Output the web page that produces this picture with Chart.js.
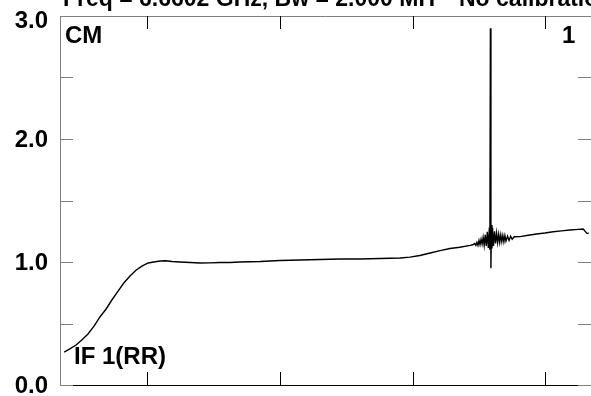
<!DOCTYPE html>
<html>
<head>
<meta charset="utf-8">
<script src="https://cdn.jsdelivr.net/npm/chart.js@4.4.1/dist/chart.umd.min.js"></script>
<style>
  html, body { margin: 0; padding: 0; background: #ffffff; overflow: hidden; }
  #wrap { width: 591px; height: 396px; }
</style>
</head>
<body>
<div id="wrap"><canvas id="c" width="591" height="396"></canvas></div>
<script>
// ---- data ----
const channels = [8, 19, 31, 42, 54, 66, 77, 89, 100, 112, 123, 135, 147, 158, 170, 181, 193, 204, 216, 231,
  251, 270, 289, 309, 328, 347, 386, 424, 463, 501, 540, 579, 617, 656, 675, 694, 714, 733, 752, 771, 791, 796,
  800, 802, 804, 806, 808, 810, 812, 814, 816, 818, 820, 822, 824, 826, 828, 829, 830, 831, 832, 833, 834, 836,
  838, 840, 842, 844, 846, 848, 850, 852, 854, 856, 858, 860, 863, 866, 869, 872, 876,
  887, 903, 919, 935, 951, 967, 983, 1000, 1009, 1016, 1020];
const amplitude = [0.268, 0.293, 0.325, 0.366, 0.415, 0.48, 0.553, 0.618, 0.691, 0.764, 0.829, 0.886, 0.935, 0.967, 0.992, 1.0, 1.008, 1.01, 1.004, 1.0,
  0.996, 0.992, 0.993, 0.996, 0.996, 1.0, 1.004, 1.012, 1.016, 1.02, 1.024, 1.024, 1.028, 1.033, 1.04, 1.053, 1.073, 1.093, 1.11, 1.12, 1.135, 1.14,
  1.15, 1.135, 1.16, 1.135, 1.175, 1.14, 1.185, 1.145, 1.20, 1.135, 1.22, 1.13, 1.245, 1.115, 1.28, 1.10, 2.90, 0.95, 1.30, 1.11, 1.28, 1.13,
  1.25, 1.15, 1.235, 1.16, 1.225, 1.16, 1.22, 1.165, 1.215, 1.165, 1.215, 1.17, 1.21, 1.175, 1.21, 1.185, 1.205,
  1.206, 1.218, 1.228, 1.236, 1.246, 1.253, 1.26, 1.265, 1.268, 1.233, 1.235];

const xTicks = [168, 424, 680, 936];
const yTicks = [0, 0.5, 1, 1.5, 2, 2.5, 3];
const yLabelValues = [0, 1, 2, 3];
const yTickLabels = ['0.0', '1.0', '2.0', '3.0'];
const titleLeft = 'Freq = 6.6602 GHz, Bw = 2.000 MH';
const titleRight = 'No calibration';
const cornerTL = 'CM';
const cornerTR = '1';
const cornerBL = 'IF 1(RR)';

const FAMILY = '"Liberation Sans", Arial, Helvetica, sans-serif';
const FONT = 'bold 24px ' + FAMILY;
const TITLE_FONT = 'bold 23px ' + FAMILY;
const GRAY = '#7f7f7f';

const decor = {
  id: 'decor',
  afterDraw(chart) {
    const ctx = chart.ctx;
    const { left, right, top, bottom } = chart.chartArea;
    const xs = chart.scales.x, ys = chart.scales.y;
    const T = 13;
    ctx.save();
    ctx.lineWidth = 1;
    // top border
    ctx.strokeStyle = GRAY;
    ctx.beginPath();
    ctx.moveTo(left, Math.round(top) + 0.5);
    ctx.lineTo(right, Math.round(top) + 0.5);
    ctx.stroke();
    // x ticks (inward, top and bottom)
    ctx.strokeStyle = '#000000';
    ctx.beginPath();
    xTicks.forEach(v => {
      const px = Math.round(xs.getPixelForValue(v)) + 0.5;
      ctx.moveTo(px, bottom);
      ctx.lineTo(px, bottom - T);
      ctx.moveTo(px, top);
      ctx.lineTo(px, top + T);
    });
    ctx.stroke();
    // y ticks (inward, left and right)
    ctx.strokeStyle = GRAY;
    ctx.beginPath();
    yTicks.forEach(v => {
      const py = Math.round(ys.getPixelForValue(v)) + 0.5;
      ctx.moveTo(left, py);
      ctx.lineTo(left + T, py);
      ctx.moveTo(right, py);
      ctx.lineTo(right - T, py);
    });
    ctx.stroke();
    // y tick labels
    ctx.fillStyle = '#000000';
    ctx.font = FONT;
    ctx.textAlign = 'right';
    ctx.textBaseline = 'middle';
    yLabelValues.forEach((v, i) => {
      const py = Math.max(ys.getPixelForValue(v), top + 4);
      ctx.fillText(yTickLabels[i], left - 12, py + 1);
    });
    // corner texts
    ctx.textBaseline = 'alphabetic';
    ctx.textAlign = 'left';
    ctx.fillText(cornerTL, 65, 43);
    ctx.fillText(cornerTR, 562, 43);
    ctx.fillText(cornerBL, 74, 364);
    // title (clipped at the top edge)
    ctx.font = TITLE_FONT;
    ctx.fillText(titleLeft, 63, 6);
    ctx.fillText(titleRight, 459, 6);
    ctx.restore();
  }
};

new Chart(document.getElementById('c'), {
  type: 'line',
  data: {
    datasets: [{
      data: channels.map((c, i) => ({ x: c, y: amplitude[i] })),
      borderColor: '#000000',
      borderWidth: 1.4,
      pointRadius: 0,
      tension: 0,
      fill: false
    }]
  },
  options: {
    responsive: false,
    animation: false,
    events: [],
    layout: { padding: { left: 0, top: 16, right: 0, bottom: 0 } },
    plugins: { legend: { display: false }, title: { display: false }, tooltip: { enabled: false } },
    scales: {
      x: {
        type: 'linear',
        min: 0, max: 1024,
        afterFit(s) { s.height = 11; },
        ticks: { display: false },
        grid: { drawOnChartArea: false, drawTicks: false },
        border: { display: true, color: '#000000', width: 1 }
      },
      y: {
        type: 'linear',
        min: 0, max: 3,
        afterFit(s) { s.width = 60; },
        afterBuildTicks(s) { s.ticks = yTicks.map(v => ({ value: v })); },
        ticks: { display: false },
        grid: { drawOnChartArea: false, drawTicks: false },
        border: { display: true, color: GRAY, width: 1 }
      }
    }
  },
  plugins: [decor]
});
</script>
</body>
</html>
